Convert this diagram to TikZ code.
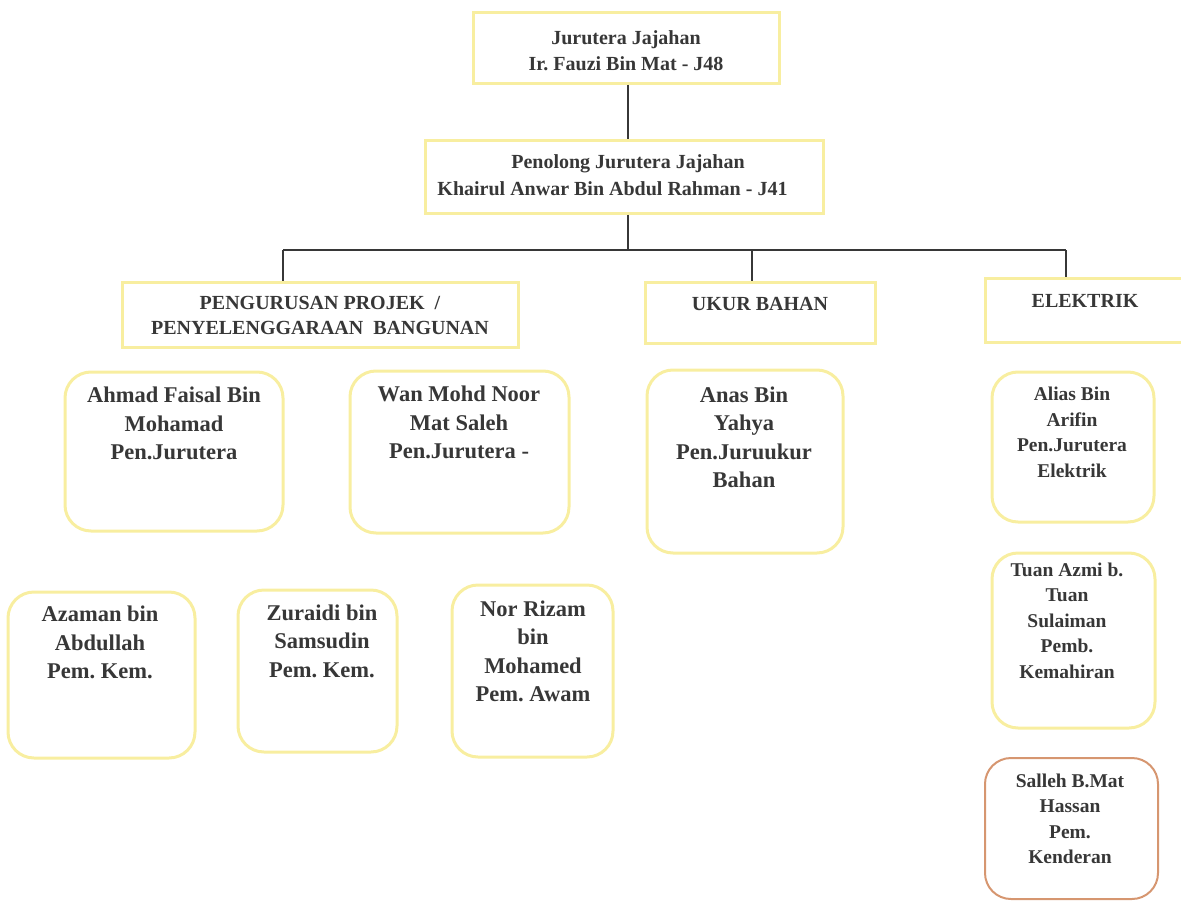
\documentclass[tikz,border=0pt]{standalone}
\usepackage{fontspec}
\setmainfont{Liberation Serif}
\frenchspacing
\definecolor{boxy}{RGB}{248,238,160}
\definecolor{boxo}{RGB}{214,150,112}
\definecolor{ink}{RGB}{55,55,55}
\begin{document}
\begin{tikzpicture}[x=1pt,y=-1pt,
  sqbox/.style={draw=boxy, line width=3pt, inner sep=0pt},
  rbox/.style={draw=boxy, line width=3pt, inner sep=0pt, rounded corners=26pt},
  obox/.style={draw=boxo, line width=2pt, inner sep=0pt, rounded corners=26pt},
  ttop/.style={text=ink, font=\fontsize{20}{26.5}\selectfont\bfseries, align=center, inner sep=0pt},
  tdept/.style={text=ink, font=\fontsize{20}{25}\selectfont\bfseries, align=center, inner sep=0pt},
  tbig/.style={text=ink, font=\fontsize{22.5}{28.5}\selectfont\bfseries, align=center, inner sep=0pt},
  tsmall/.style={text=ink, font=\fontsize{19.5}{25.5}\selectfont\bfseries, align=center, inner sep=0pt},
  conn/.style={draw=ink, line width=1.4pt}]
\useasboundingbox (0,0) rectangle (1181,902);

% top levels
\node[sqbox, minimum width=306pt, minimum height=71pt] (top) at (626,47.5) {};
\node[ttop] (topT) at (626,50.5) {Jurutera Jajahan\\Ir. Fauzi Bin Mat - J48};
\node[sqbox, minimum width=398pt, minimum height=73pt] (pen) at (624,176.5) {};
\node[ttop] (penT) at (612.5,175) {\hspace*{31pt}Penolong Jurutera Jajahan\\Khairul Anwar Bin Abdul Rahman - J41};

% departments
\node[sqbox, minimum width=396pt, minimum height=65pt] (dept) at (320,314.5) {};
\node[tdept] (deptT) at (320,315.5) {PENGURUSAN PROJEK~~/\\PENYELENGGARAAN~~BANGUNAN};
\node[sqbox, minimum width=230pt, minimum height=61pt] (ukur) at (760,312.5) {};
\node[tdept] (ukurT) at (760,304) {UKUR BAHAN};
\node[sqbox, minimum width=210pt, minimum height=64pt] (elek) at (1090,310) {};
\node[tdept] (elekT) at (1085,301) {ELEKTRIK};

% connectors
\coordinate (busL) at (283,250);
\coordinate (busU) at (752,250);
\coordinate (busR) at (1066,250);
\coordinate (busC) at (628,250);
\draw[conn] (top.south -| busC) -- (pen.north -| busC);
\draw[conn] (pen.south -| busC) -- (busC);
\draw[conn] (busL) -- (busR);
\draw[conn] (busL) -- (busL |- dept.north);
\draw[conn] (busU) -- (busU |- ukur.north);
\draw[conn] (busR) -- (busR |- elek.north);

% staff boxes
\node[rbox, minimum width=218pt, minimum height=159pt] (ahmad) at (174,451.5) {};
\node[tbig] (ahmadT) at (174,423.5) {Ahmad Faisal Bin\\Mohamad\\Pen.Jurutera};
\node[rbox, minimum width=219pt, minimum height=162pt] (wan) at (459.5,452) {};
\node[tbig] (wanT) at (459,422.5) {Wan Mohd Noor\\Mat Saleh\\Pen.Jurutera -};
\node[rbox, minimum width=196pt, minimum height=183pt] (anas) at (745,461.5) {};
\node[tbig] (anasT) at (744,437.5) {Anas Bin\\Yahya\\Pen.Juruukur\\Bahan};
\node[rbox, minimum width=162pt, minimum height=150pt] (alias) at (1073,447) {};
\node[tsmall] (aliasT) at (1072,432.5) {Alias Bin\\Arifin\\Pen.Jurutera\\Elektrik};
\node[rbox, minimum width=163pt, minimum height=175pt] (tuan) at (1073.5,640.5) {};
\node[tsmall] (tuanT) at (1067,620.5) {Tuan Azmi b.\\Tuan\\Sulaiman\\Pemb.\\Kemahiran};
\node[obox, minimum width=173pt, minimum height=141pt] (salleh) at (1071.5,828.5) {};
\node[tsmall] (sallehT) at (1070,819) {Salleh B.Mat\\Hassan\\Pem.\\Kenderan};
\node[rbox, minimum width=187pt, minimum height=166pt] (azaman) at (101.5,675) {};
\node[tbig] (azamanT) at (100,642.5) {Azaman bin\\Abdullah\\Pem. Kem.};
\node[rbox, minimum width=159pt, minimum height=162pt] (zuraidi) at (317.5,671) {};
\node[tbig] (zuraidiT) at (322,641) {Zuraidi bin\\Samsudin\\Pem. Kem.};
\node[rbox, minimum width=161pt, minimum height=172pt] (nor) at (532.5,671) {};
\node[tbig] (norT) at (533,651.5) {Nor Rizam\\bin\\Mohamed\\Pem. Awam};
\end{tikzpicture}
\end{document}
